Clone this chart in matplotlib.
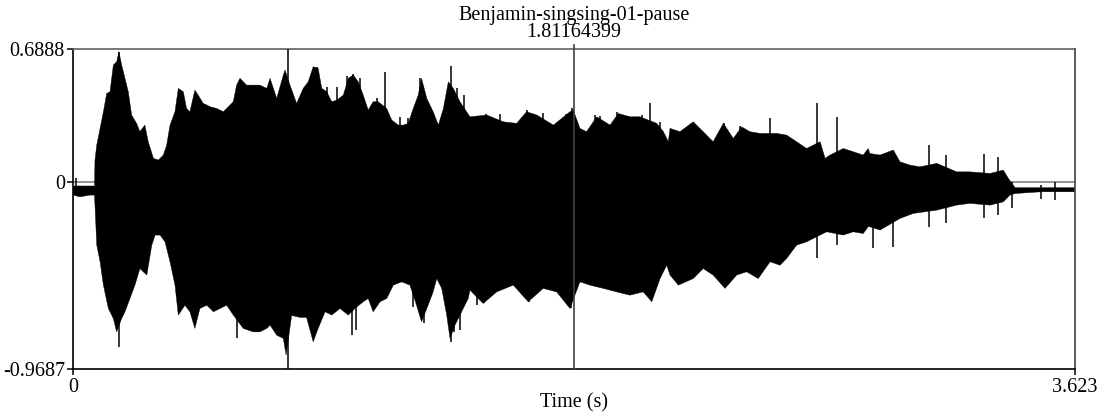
import matplotlib.pyplot as plt
import numpy as np

# sound: Benjamin-singsing-01-pause, values
sound_name = "Benjamin-singsing-01-pause"
t_start = 0.0
t_end = 3.623
amp_max = 0.6888
amp_min = -0.9687
cursor_time = 1.81164399

# upper envelope of the waveform (time s, amplitude)
up_t = [0.000, 0.024, 0.060, 0.077, 0.0785, 0.085, 0.097, 0.109, 0.121, 0.133,
        0.145, 0.157, 0.165, 0.175, 0.187, 0.199, 0.211, 0.229, 0.241, 0.259,
        0.271, 0.290, 0.308, 0.326, 0.338, 0.350, 0.368, 0.380, 0.398, 0.410,
        0.422, 0.440, 0.452, 0.470, 0.483, 0.495, 0.519, 0.543, 0.561, 0.579,
        0.591, 0.603, 0.627, 0.651, 0.675, 0.700, 0.712, 0.736, 0.760, 0.766,
        0.784, 0.808, 0.832, 0.850, 0.868, 0.886, 0.899, 0.917, 0.935, 0.953,
        0.977, 0.995, 1.013, 1.031, 1.049, 1.067, 1.085, 1.103, 1.134, 1.152,
        1.176, 1.194, 1.212, 1.230, 1.248, 1.260, 1.279, 1.302, 1.321, 1.339,
        1.357, 1.375, 1.399, 1.423, 1.435, 1.496, 1.556, 1.604, 1.640, 1.677,
        1.737, 1.797, 1.809, 1.833, 1.857, 1.894, 1.942, 1.972, 2.014, 2.050,
        2.111, 2.135, 2.153, 2.159, 2.195, 2.243, 2.279, 2.315, 2.352, 2.388,
        2.418, 2.448, 2.484, 2.545, 2.581, 2.617, 2.653, 2.702, 2.720, 2.738,
        2.786, 2.822, 2.858, 2.876, 2.882, 2.919, 2.967, 2.991, 3.027, 3.063,
        3.124, 3.196, 3.244, 3.317, 3.365, 3.383, 3.401, 3.407, 3.501, 3.552,
        3.623]
up_a = [-0.020, -0.020, -0.020, -0.020, 0.114, 0.192, 0.278, 0.364, 0.459, 0.468,
        0.606, 0.623, 0.675, 0.606, 0.537, 0.468, 0.347, 0.304, 0.261, 0.295,
        0.209, 0.123, 0.114, 0.140, 0.192, 0.295, 0.364, 0.485, 0.468, 0.381,
        0.364, 0.476, 0.450, 0.407, 0.399, 0.390, 0.381, 0.364, 0.390, 0.416,
        0.502, 0.537, 0.502, 0.502, 0.502, 0.485, 0.537, 0.433, 0.554, 0.580,
        0.502, 0.407, 0.485, 0.519, 0.597, 0.588, 0.485, 0.468, 0.416, 0.424,
        0.450, 0.537, 0.554, 0.519, 0.450, 0.373, 0.416, 0.416, 0.381, 0.321,
        0.295, 0.295, 0.304, 0.381, 0.450, 0.537, 0.433, 0.364, 0.295, 0.381,
        0.519, 0.485, 0.416, 0.364, 0.338, 0.347, 0.312, 0.304, 0.364, 0.347,
        0.295, 0.364, 0.373, 0.278, 0.261, 0.338, 0.295, 0.355, 0.338, 0.338,
        0.304, 0.261, 0.209, 0.278, 0.261, 0.312, 0.261, 0.209, 0.304, 0.226,
        0.286, 0.261, 0.252, 0.252, 0.243, 0.209, 0.174, 0.209, 0.123, 0.140,
        0.174, 0.157, 0.140, 0.174, 0.148, 0.140, 0.166, 0.105, 0.088, 0.079,
        0.097, 0.053, 0.053, 0.045, 0.062, 0.019, -0.016, -0.029, -0.029, -0.029,
        -0.029]

# lower envelope of the waveform (time s, amplitude)
lo_t = [0.000, 0.024, 0.060, 0.077, 0.0785, 0.085, 0.097, 0.109, 0.127, 0.145,
        0.157, 0.175, 0.187, 0.205, 0.223, 0.241, 0.266, 0.284, 0.296, 0.314,
        0.332, 0.350, 0.368, 0.380, 0.404, 0.422, 0.440, 0.458, 0.483, 0.507,
        0.531, 0.555, 0.579, 0.615, 0.651, 0.675, 0.700, 0.712, 0.736, 0.760,
        0.770, 0.790, 0.820, 0.844, 0.868, 0.886, 0.911, 0.935, 0.965, 0.995,
        1.019, 1.049, 1.067, 1.085, 1.110, 1.134, 1.158, 1.188, 1.218, 1.242,
        1.260, 1.279, 1.302, 1.315, 1.333, 1.351, 1.363, 1.381, 1.405, 1.429,
        1.435, 1.483, 1.532, 1.592, 1.646, 1.700, 1.749, 1.797, 1.833, 1.869,
        1.918, 1.966, 2.014, 2.062, 2.093, 2.123, 2.147, 2.159, 2.189, 2.243,
        2.279, 2.315, 2.358, 2.400, 2.436, 2.478, 2.521, 2.557, 2.581, 2.617,
        2.653, 2.726, 2.786, 2.822, 2.858, 2.876, 2.882, 2.919, 2.991, 3.039,
        3.124, 3.196, 3.244, 3.317, 3.365, 3.389, 3.407, 3.501, 3.552, 3.623]
lo_a = [-0.067, -0.076, -0.067, -0.067, -0.119, -0.326, -0.412, -0.533, -0.654, -0.706,
        -0.775, -0.706, -0.671, -0.602, -0.533, -0.447, -0.481, -0.326, -0.274, -0.274,
        -0.309, -0.412, -0.533, -0.688, -0.637, -0.671, -0.757, -0.654, -0.637, -0.671,
        -0.654, -0.637, -0.688, -0.757, -0.775, -0.775, -0.757, -0.740, -0.792, -0.809,
        -0.895, -0.690, -0.700, -0.700, -0.826, -0.757, -0.671, -0.688, -0.654, -0.688,
        -0.654, -0.619, -0.602, -0.671, -0.619, -0.602, -0.533, -0.516, -0.533, -0.637,
        -0.723, -0.654, -0.568, -0.499, -0.550, -0.688, -0.809, -0.740, -0.671, -0.602,
        -0.559, -0.628, -0.568, -0.533, -0.619, -0.550, -0.568, -0.654, -0.516, -0.533,
        -0.550, -0.568, -0.585, -0.568, -0.619, -0.499, -0.430, -0.481, -0.533, -0.499,
        -0.447, -0.481, -0.550, -0.481, -0.464, -0.499, -0.412, -0.430, -0.395, -0.326,
        -0.309, -0.257, -0.274, -0.257, -0.266, -0.231, -0.231, -0.248, -0.188, -0.162,
        -0.145, -0.119, -0.110, -0.119, -0.102, -0.067, -0.059, -0.050, -0.050, -0.050]

# single-sample spikes sticking out of the envelope (time, top, bottom)
spike_t = [0.010, 0.165, 0.591, 0.776, 1.128, 1.365, 2.086, 2.521, 2.690, 2.762,
           2.892, 2.965, 3.096, 3.158, 3.296, 3.347, 3.395, 3.501, 3.552,
           0.882, 0.917, 0.953, 0.991, 1.011, 1.037, 1.098, 1.182, 1.212, 1.254,
           1.266, 1.387, 1.415, 1.495, 1.544, 1.642, 1.700, 1.782, 1.803, 1.887,
           1.905, 1.968, 2.008, 2.056, 2.122, 2.353, 2.412,
           1.007, 1.023, 1.269, 1.377, 1.399, 1.462, 1.486, 1.647, 1.801, 1.230]
spike_hi = [0.019, 0.675, 0.0, 0.6888, 0.571, 0.602, 0.410, 0.330, 0.407, 0.338,
            0.0, 0.0, 0.192, 0.140, 0.148, 0.131, 0.0, -0.016, 0.002,
            0.597, 0.494, 0.494, 0.550, 0.557, 0.537, 0.433, 0.338, 0.330, 0.537,
            0.494, 0.485, 0.450, 0.355, 0.352, 0.373, 0.359, 0.355, 0.381, 0.347,
            0.342, 0.364, 0.344, 0.347, 0.312, 0.304, 0.290,
            0.0, 0.0, 0.0, 0.0, 0.0, 0.0, 0.0, 0.0, 0.0, 0.0]
spike_lo = [-0.050, -0.852, -0.809, -0.9687, 0.0, -0.827, 0.0, -0.412, -0.395, -0.326,
            -0.343, -0.335, -0.231, -0.214, -0.188, -0.171, -0.136, -0.088, -0.093,
            0.0, 0.0, 0.0, 0.0, 0.0, 0.0, 0.0, 0.0, 0.0, 0.0,
            0.0, 0.0, 0.0, 0.0, 0.0, 0.0, 0.0, 0.0, 0.0, 0.0,
            0.0, 0.0, 0.0, 0.0, 0.0, 0.0, 0.0,
            -0.792, -0.766, -0.731, -0.775, -0.766, -0.637, -0.628, -0.619, -0.654, -0.645]

plt.rcParams['font.family'] = ['Liberation Serif', 'DejaVu Serif']

fig = plt.figure(figsize=(11.07, 4.15), dpi=100)
ax = fig.add_axes([0.0662, 0.1101, 0.9046, 0.7718])

# zero line under the waveform
ax.axhline(0, color='#808080', lw=1.2, zorder=1)

# waveform as filled envelope plus the thin spikes
poly_t = np.concatenate([up_t, lo_t[::-1]])
poly_a = np.concatenate([up_a, lo_a[::-1]])
ax.fill(poly_t, poly_a, color='black', lw=0.3, zorder=2)
ax.vlines(spike_t, spike_lo, spike_hi, color='black', lw=1.1, zorder=3)

# cursor
ax.axvline(cursor_time, ymin=0, ymax=1.013, color='#404040', lw=1.2, zorder=4, clip_on=False)

ax.set_xlim(t_start, t_end)
ax.set_ylim(amp_min, amp_max)

ax.set_xticks([t_start, t_end])
ax.set_xticklabels(['0', '3.623'])
ax.set_yticks([amp_min, 0, amp_max])
ax.set_yticklabels(['-0.9687', '0', '0.6888'])
ax.tick_params(axis='both', direction='out', length=4.5, width=1.1, labelsize=14.5, pad=1.5, colors='black')

for side in ['left', 'bottom']:
    ax.spines[side].set_linewidth(1.2)
    ax.spines[side].set_color('black')
ax.spines['top'].set_linewidth(1.2)
ax.spines['top'].set_color('#606060')
ax.spines['right'].set_linewidth(1.2)
ax.spines['right'].set_color('#404040')

ax.text(0.5, 1.106, sound_name, transform=ax.transAxes, ha='center', va='center', fontsize=14.5)
ax.text(cursor_time, 1.05, '1.81164399', transform=ax.get_xaxis_transform(),
        ha='center', va='center', fontsize=14.5)
ax.text(0.5, -0.105, 'Time (s)', transform=ax.transAxes, ha='center', va='center', fontsize=14.5)

fig.savefig('out.png', dpi=100)
